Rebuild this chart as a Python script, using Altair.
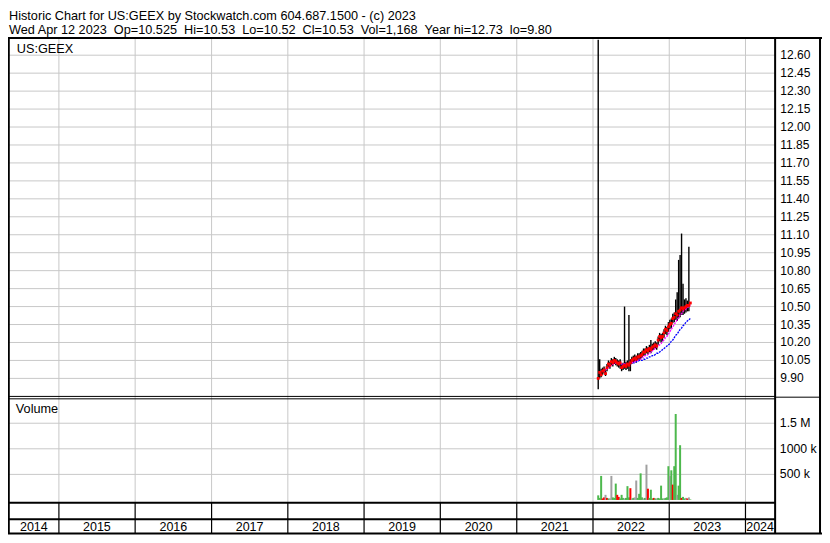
import altair as alt
import pandas as pd

# ---------------- data ----------------
HEADER_1 = "Historic Chart for US:GEEX by Stockwatch.com 604.687.1500 - (c) 2023"
HEADER_2 = ("Wed Apr 12 2023 \u00a0Op=10.525 \u00a0Hi=10.53 \u00a0Lo=10.52 \u00a0Cl=10.53 "
            "\u00a0Vol=1,168 \u00a0Year hi=12.73 \u00a0lo=9.80")
SYMBOL = "US:GEEX"
VOL_TITLE = "Volume"

first_week = "2022-01-26"   # weekly bars through 2023-04-12

price_hi = [12.73, 10.06, 9.98, 9.99, 10.00, 9.98, 10.02, 10.05, 10.04, 10.07,
            10.06, 10.08, 10.07, 10.06, 10.05, 10.06, 10.02, 10.03, 10.50, 10.04,
            10.05, 10.43, 10.06, 10.08, 10.09, 10.10, 10.09, 10.11, 10.11, 10.12,
            10.13, 10.15, 10.15, 10.17, 10.16, 10.18, 10.22, 10.19, 10.20, 10.21,
            10.20, 10.25, 10.28, 10.27, 10.28, 10.31, 10.34, 10.33, 10.37, 10.39,
            10.40, 10.44, 10.45, 10.56, 10.62, 10.89, 10.93, 11.11, 10.69, 10.56,
            10.57, 10.55, 11.00, 10.53]
price_lo = [9.81, 9.90, 9.91, 9.93, 9.94, 9.92, 9.96, 9.99, 9.98, 10.01,
            10.00, 10.02, 10.01, 10.00, 9.99, 9.98, 9.96, 9.97, 9.98, 9.97,
            9.98, 9.96, 9.96, 10.02, 10.03, 10.04, 10.03, 10.05, 10.05, 10.06,
            10.07, 10.09, 10.09, 10.11, 10.10, 10.12, 10.11, 10.13, 10.14, 10.15,
            10.14, 10.18, 10.21, 10.20, 10.21, 10.24, 10.27, 10.26, 10.29, 10.31,
            10.32, 10.36, 10.37, 10.39, 10.38, 10.40, 10.41, 10.43, 10.43, 10.44,
            10.45, 10.46, 10.46, 10.52]
price_close = [9.90, 9.95, 9.93, 9.96, 9.97, 9.94, 9.99, 10.02, 10.01, 10.04,
               10.03, 10.05, 10.04, 10.03, 10.02, 10.03, 9.99, 10.00, 10.01, 10.00,
               10.02, 10.01, 10.03, 10.05, 10.06, 10.07, 10.06, 10.08, 10.08, 10.09,
               10.10, 10.12, 10.12, 10.14, 10.13, 10.15, 10.14, 10.16, 10.17, 10.18,
               10.17, 10.22, 10.25, 10.24, 10.25, 10.28, 10.31, 10.30, 10.33, 10.35,
               10.36, 10.40, 10.41, 10.44, 10.43, 10.46, 10.47, 10.49, 10.48, 10.49,
               10.50, 10.51, 10.51, 10.53]
ma_short = [None, None, None, 9.96, 9.96, 9.97, 9.98, 9.99, 10.00, 10.01,
            10.02, 10.02, 10.03, 10.03, 10.03, 10.03, 10.02, 10.02, 10.02, 10.02,
            10.02, 10.02, 10.03, 10.03, 10.04, 10.04, 10.05, 10.05, 10.06, 10.06,
            10.07, 10.08, 10.09, 10.09, 10.10, 10.11, 10.12, 10.13, 10.14, 10.15,
            10.16, 10.17, 10.18, 10.19, 10.21, 10.22, 10.24, 10.25, 10.27, 10.29,
            10.31, 10.33, 10.35, 10.37, 10.39, 10.41, 10.43, 10.44, 10.46, 10.47,
            10.48, 10.49, 10.50, 10.51]
ma_long = [None] * 16 + [
            10.01, 10.01, 10.01, 10.02,
            10.02, 10.02, 10.02, 10.03, 10.03, 10.03, 10.04, 10.04, 10.05, 10.05,
            10.05, 10.06, 10.06, 10.07, 10.07, 10.08, 10.08, 10.09, 10.09, 10.10,
            10.11, 10.11, 10.12, 10.13, 10.14, 10.15, 10.16, 10.17, 10.18, 10.19,
            10.21, 10.22, 10.24, 10.26, 10.27, 10.29, 10.31, 10.32, 10.34, 10.35,
            10.37, 10.38, 10.39, 10.40]
# volume in millions of shares, and the day's direction
vol_m = [0.09, 0.04, 0.47, 0.03, 0.05, 0.10, 0.04, 0.03, 0.03, 0.47,
         0.05, 0.04, 0.32, 0.10, 0.06, 0.03, 0.10, 0.04, 0.03, 0.04,
         0.27, 0.05, 0.23, 0.03, 0.04, 0.05, 0.38, 0.04, 0.12, 0.52,
         0.05, 0.03, 0.04, 0.69, 0.22, 0.04, 0.20, 0.03, 0.04, 0.03,
         0.03, 0.04, 0.03, 0.28, 0.03, 0.03, 0.04, 0.05, 0.66, 0.47,
         0.58, 0.30, 0.66, 1.68, 0.10, 0.28, 1.07, 0.04, 0.06, 0.03,
         0.04, 0.03, 0.05, 0.01]
vol_dir = ["up", "up", "up", "down", "down", "flat", "down", "up", "flat", "flat",
           "up", "up", "up", "down", "down", "up", "up", "up", "flat", "up",
           "up", "up", "down", "flat", "up", "flat", "flat", "up", "up", "up",
           "up", "flat", "up", "flat", "down", "up", "up", "up", "down", "up",
           "flat", "up", "up", "up", "up", "flat", "up", "up", "up", "flat",
           "up", "down", "up", "up", "flat", "up", "up", "down", "up", "up",
           "flat", "down", "flat", "up"]

price_ticks = [9.90, 10.05, 10.20, 10.35, 10.50, 10.65, 10.80, 10.95, 11.10, 11.25,
               11.40, 11.55, 11.70, 11.85, 12.00, 12.15, 12.30, 12.45, 12.60]
price_labels = ["9.90", "10.05", "10.20", "10.35", "10.50", "10.65", "10.80", "10.95",
                "11.10", "11.25", "11.40", "11.55", "11.70", "11.85", "12.00", "12.15",
                "12.30", "12.45", "12.60"]
vol_ticks = [0.5, 1.0, 1.5]
vol_labels = ["500 k", "1000 k", "1.5 M"]
year_starts = ["2015-01-01", "2016-01-01", "2017-01-01", "2018-01-01", "2019-01-01",
               "2020-01-01", "2021-01-01", "2022-01-01", "2023-01-01", "2024-01-01"]
year_names = ["2014", "2015", "2016", "2017", "2018", "2019", "2020", "2021",
              "2022", "2023", "2024"]
year_label_at = ["2014-09-03", "2015-07-02", "2016-07-02", "2017-07-02", "2018-07-02",
                 "2019-07-02", "2020-07-02", "2021-07-02", "2022-07-02", "2023-07-02",
                 "2024-03-11"]

# ---------------- layout / style ----------------
W, H = 814, 527
FX, FY = W / 830.0, H / 543.0


def px(v):   # reference x pixel -> chart x
    return v * FX


def py(v):   # reference y pixel -> chart y
    return v * FY


XL, XP, XR = px(0.8), px(782.2), px(829)
Y_TOP = py(31)
Y_PRICE_BOT_A, Y_PRICE_BOT_B = py(400.2), py(402.7)
Y_VOL_BOT = py(509.7)
Y_STRIP = py(526.7)
Y_BOT = py(541.5)
FONT = "Liberation Sans"
GRID = "#c8c8c8"
GREEN, RED, GREY = "#4db84d", "#ff0000", "#a0a0a0"

xscale = alt.Scale(domain=[alt.DateTime(year=2014, month=5, date=7),
                           alt.DateTime(year=2024, month=5, date=21)],
                   range=[px(1), px(782)], nice=False)
pscale = alt.Scale(domain=[9.76, 12.73], range=[py(398.9), py(32.6)], nice=False, zero=False)
vscale = alt.Scale(domain=[-0.04, 1.99], range=[py(509), py(402)], nice=False, zero=False)

bars = pd.DataFrame({
    "date": pd.date_range(first_week, periods=len(price_hi), freq="7D").strftime("%Y-%m-%d"),
    "hi": price_hi, "lo": price_lo, "close": price_close,
    "ma_s": ma_short, "ma_l": ma_long, "vol": vol_m, "dir": vol_dir,
})
one = pd.DataFrame({"k": [0]})

X = alt.X("date:T", scale=xscale, axis=None)


def hline(y, x1, x2, w=1.0, color="black"):
    return alt.Chart(one).mark_rule(color=color, strokeWidth=w).encode(
        y=alt.value(y), x=alt.value(x1), x2=alt.value(x2))


def vline(x, y1, y2, w=1.0, color="black"):
    return alt.Chart(one).mark_rule(color=color, strokeWidth=w).encode(
        x=alt.value(x), y=alt.value(y1), y2=alt.value(y2))


def label(txt, x, y, size=12.7, align="left"):
    return alt.Chart(one).mark_text(text=txt, font=FONT, fontSize=size, align=align,
                                    baseline="alphabetic", color="black").encode(
        x=alt.value(x), y=alt.value(y))


years_df = pd.DataFrame({"d": year_starts})
ylab_df = pd.DataFrame({"d": year_label_at, "t": year_names})
ptick_df = pd.DataFrame({"p": price_ticks, "t": price_labels})
vtick_df = pd.DataFrame({"v": vol_ticks, "t": vol_labels})

layers = []
bg = alt.Chart(one).mark_rect(color="white").encode(
    x=alt.value(0), x2=alt.value(W), y=alt.value(0), y2=alt.value(H))
layers.append(bg)

# grids
layers.append(alt.Chart(ptick_df).mark_rule(color=GRID, strokeWidth=1).encode(
    y=alt.Y("p:Q", scale=pscale, axis=None), x=alt.value(XL), x2=alt.value(XP)))
layers.append(alt.Chart(vtick_df).mark_rule(color=GRID, strokeWidth=1).encode(
    y=alt.Y("v:Q", scale=vscale, axis=None), x=alt.value(XL), x2=alt.value(XP)))
layers.append(alt.Chart(years_df).mark_rule(color=GRID, strokeWidth=1).encode(
    x=alt.X("d:T", scale=xscale, axis=None), y=alt.value(Y_TOP), y2=alt.value(Y_VOL_BOT)))
layers.append(alt.Chart(years_df).mark_rule(color="black", strokeWidth=1.2).encode(
    x=alt.X("d:T", scale=xscale, axis=None), y=alt.value(Y_VOL_BOT), y2=alt.value(Y_BOT)))

# price bars, closes, moving averages
layers.append(alt.Chart(bars).mark_rule(color="black", strokeWidth=1.4).encode(
    x=X, y=alt.Y("lo:Q", scale=pscale, axis=None), y2="hi:Q"))
layers.append(alt.Chart(bars.dropna(subset=["ma_l"])).mark_line(
    color="#0000ff", strokeWidth=1.3, strokeDash=[2, 1]).encode(
    x=X, y=alt.Y("ma_l:Q", scale=pscale, axis=None)))
layers.append(alt.Chart(bars.dropna(subset=["ma_s"])).mark_line(
    color="#ff00ff", strokeWidth=1.3, strokeDash=[2, 1]).encode(
    x=X, y=alt.Y("ma_s:Q", scale=pscale, axis=None)))
layers.append(alt.Chart(bars).mark_square(size=8, color=RED, opacity=1).encode(
    x=X, y=alt.Y("close:Q", scale=pscale, axis=None)))

# volume bars
layers.append(alt.Chart(bars).mark_rule(strokeWidth=2).encode(
    x=X, y=alt.Y("vol:Q", scale=vscale, axis=None), y2=alt.datum(0),
    color=alt.Color("dir:N", scale=alt.Scale(domain=["up", "down", "flat"],
                                             range=[GREEN, RED, GREY]), legend=None)))

# frame
layers += [
    hline(Y_TOP, 0, W, 2),
    hline(Y_PRICE_BOT_A, 0, XP, 1),
    hline(Y_PRICE_BOT_B, 0, XP, 1),
    hline(py(401), XP, XR, 1),
    hline(Y_VOL_BOT, 0, XP, 2),
    hline(Y_STRIP, 0, XP, 2),
    hline(Y_BOT, 0, W, 2),
    vline(XL, Y_TOP, Y_BOT, 2),
    vline(XP, Y_TOP, Y_BOT, 2),
    vline(XR - 1, Y_TOP, Y_BOT, 2),
]

# texts
layers += [
    label(HEADER_1, 1, py(12.8)),
    label(HEADER_2, 1, py(27.3)),
    label(SYMBOL, px(9), py(46)),
    label(VOL_TITLE, px(8), py(417.5)),
]
layers.append(alt.Chart(ptick_df).mark_text(font=FONT, fontSize=12, align="left",
                                            baseline="middle", color="black").encode(
    x=alt.value(px(787.5)), y=alt.Y("p:Q", scale=pscale, axis=None), text="t:N"))
layers.append(alt.Chart(vtick_df).mark_text(font=FONT, fontSize=12.3, align="left",
                                            baseline="middle", color="black").encode(
    x=alt.value(px(787)), y=alt.Y("v:Q", scale=vscale, axis=None), text="t:N"))
layers.append(alt.Chart(ylab_df).mark_text(font=FONT, fontSize=12.5, align="center",
                                           baseline="alphabetic", color="black").encode(
    x=alt.X("d:T", scale=xscale, axis=None), y=alt.value(py(539.3)), text="t:N"))

chart = alt.layer(*layers).resolve_scale(y="independent").properties(
    width=W, height=H, padding=0,
    autosize=alt.AutoSizeParams(type="none"),
).configure_view(strokeWidth=0)

chart.save("out.html", embed_options={"renderer": "svg", "actions": False})
